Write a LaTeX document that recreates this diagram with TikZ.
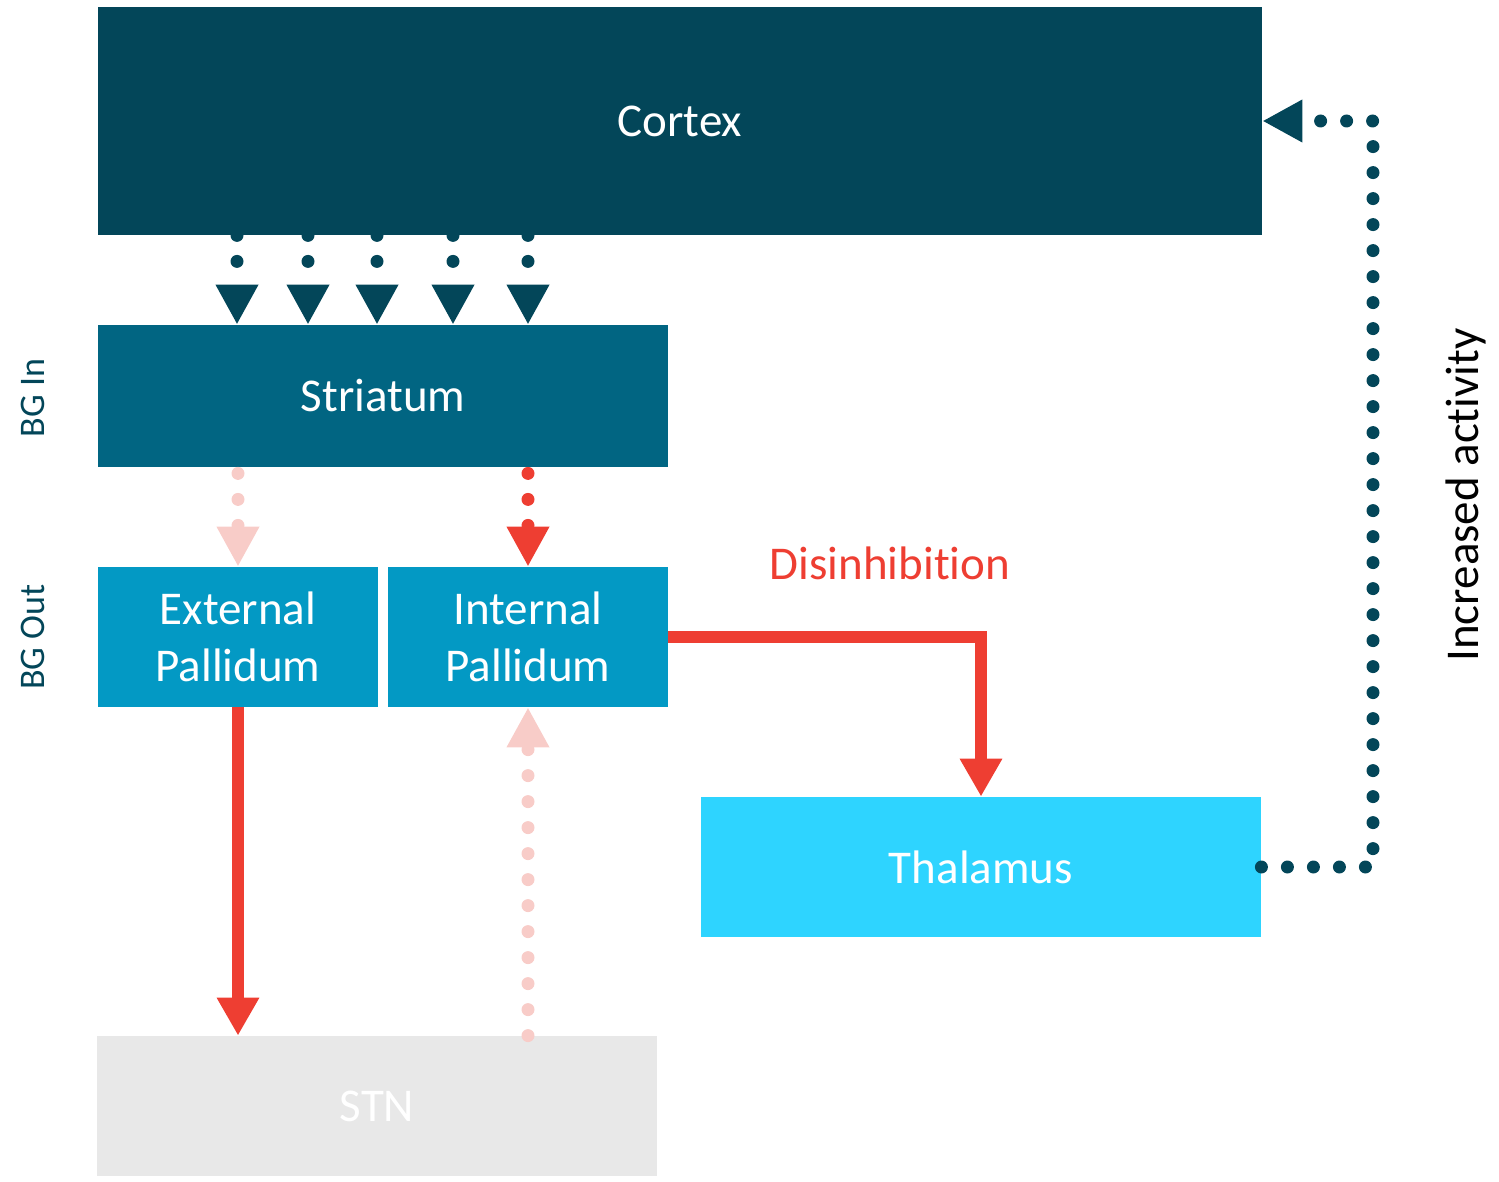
\documentclass[tikz,border=0pt]{standalone}
\usepackage{fontspec}
\setmainfont{Carlito}[Ligatures=NoCommon]
\usetikzlibrary{positioning,arrows.meta,calc}

\definecolor{ctxteal}{RGB}{3,70,89}
\definecolor{strteal}{RGB}{1,101,130}
\definecolor{palblue}{RGB}{3,153,196}
\definecolor{thalcyan}{RGB}{46,212,255}
\definecolor{stngray}{RGB}{232,232,232}
\definecolor{inhred}{RGB}{238,62,50}
\definecolor{fadedred}{RGB}{248,204,200}

\tikzset{
  region/.style={rectangle, inner sep=0pt, text=white, align=center,
    font=\fontsize{23.5}{28.3}\selectfont},
  dotline/.style={line width=6.5pt, line cap=round, dash pattern=on 0pt off 13pt,
    -{Triangle[width=20pt,length=20pt,sep=0pt]}},
  redline/.style={line width=6pt, inhred,
    -{Triangle[width=20pt,length=19pt]}},
  sidelabel/.style={rotate=90, font=\fontsize{18}{20}\selectfont, text=ctxteal}
}

\begin{document}
\begin{tikzpicture}[x=0.5pt, y=-0.5pt]
  \useasboundingbox (0,0) rectangle (1499,1182);

  % boxes
  \node[region, fill=ctxteal, minimum width=582pt, minimum height=114pt] (cortex) at (680,121) {Cortex};
  \node[region, fill=strteal, minimum width=285pt, minimum height=71pt] (striatum) at (383,396) {Striatum};
  \node[region, fill=palblue, minimum width=140pt, minimum height=70pt] (extpal) at (238,637) {External\\Pallidum};
  \node[region, fill=palblue, minimum width=140pt, minimum height=70pt] (intpal) at (528,637) {Internal\\Pallidum};
  \node[region, fill=thalcyan, minimum width=280pt, minimum height=70pt] (thal) at (981,867) {Thalamus};
  \node[region, fill=stngray, minimum width=280pt, minimum height=70pt] (stn) at (377,1106) {STN};

  % cortex -> striatum
  \foreach \x in {237,308,377,453,528}
    \draw[dotline, ctxteal] (cortex.south -| \x,0) -- (striatum.north -| \x,0);

  % striatum -> pallidum
  \draw[dotline, fadedred, shorten <=3pt] (striatum.south -| extpal) -- (extpal.north);
  \draw[dotline, inhred, shorten <=3pt] (striatum.south -| intpal) -- (intpal.north);

  % pallidum outputs
  \draw[redline] (extpal.south) -- (stn.north -| extpal);
  \draw[redline] (intpal.east) -| (thal.north);
  \draw[dotline, fadedred] (intpal.south |- stn.north) -- (intpal.south);

  % thalamus back to cortex
  \coordinate (loop) at (1373,121);
  \draw[dotline, ctxteal] (thal.east) -| (loop) -- (cortex.east);

  % labels
  \node[text=inhred, font=\fontsize{23.5}{28}\selectfont] (disinh) at (890,563) {Disinhibition};
  \node[rotate=90, font=\fontsize{23.5}{28}\selectfont] (incr) at (1466,495) {Increased activity};
  \node[sidelabel] (bgin) at (33,398) {BG In};
  \node[sidelabel] (bgout) at (33,637) {BG Out};
\end{tikzpicture}
\end{document}
